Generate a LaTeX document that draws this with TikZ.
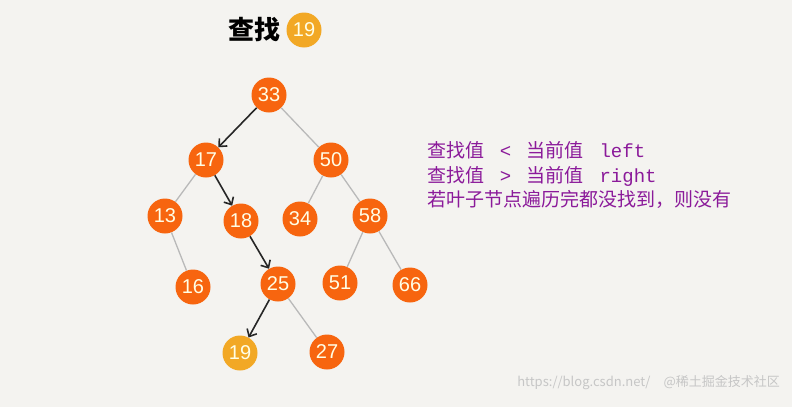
\documentclass[tikz,border=0pt]{standalone}
\usepackage{fontspec}
\newfontfamily\cjk{Noto Sans CJK SC}
\newfontfamily\mono{Liberation Mono}
\newfontfamily\numf{Liberation Sans}
\usetikzlibrary{arrows.meta}
\definecolor{bg}{HTML}{F4F3F0}
\definecolor{nod}{HTML}{F7650F}
\definecolor{yel}{HTML}{F2A825}
\definecolor{pur}{HTML}{8B1A9A}
\begin{document}
\begin{tikzpicture}[x=1pt,y=-1pt,
  tn/.style={circle,fill=nod,minimum size=35pt,inner sep=0pt,text=white!90!yellow,font=\numf\fontsize{20}{20}\selectfont},
  yn/.style={tn,fill=yel},
  ln/.style={draw=gray!55,line width=1.3pt},
  an/.style={draw=black!85,line width=1.6pt,-{Straight Barb[length=6pt,width=11pt]}}]
\fill[bg] (0,0) rectangle (792,407);
\useasboundingbox (0,0) rectangle (792,407);
\node[font=\cjk\bfseries\fontsize{26}{26}\selectfont] (title) at (254,30) {查找};
\node[yn] (q) at (304,30) {19};
\node[tn] (n33) at (269,95) {33};
\node[tn] (n17) at (206,160) {17};
\node[tn] (n50) at (331,160) {50};
\node[tn] (n13) at (165,216) {13};
\node[tn] (n18) at (241,221) {18};
\node[tn] (n34) at (300,219) {34};
\node[tn] (n58) at (370,216) {58};
\node[tn] (n16) at (193,287) {16};
\node[tn] (n25) at (278,284) {25};
\node[tn] (n51) at (340,283) {51};
\node[tn] (n66) at (410,285) {66};
\node[yn] (n19) at (240,353) {19};
\node[tn] (n27) at (327,352) {27};
\draw[ln] (n33) -- (n50);
\draw[ln] (n17) -- (n13);
\draw[ln] (n13) -- (n16);
\draw[ln] (n50) -- (n34);
\draw[ln] (n50) -- (n58);
\draw[ln] (n58) -- (n51);
\draw[ln] (n58) -- (n66);
\draw[ln] (n25) -- (n27);
\draw[an] (n33) -- (n17);
\draw[an] (n17) -- (n18);
\draw[an] (n18) -- (n25);
\draw[an] (n25) -- (n19);
\node[anchor=west,text=pur,font=\cjk\fontsize{19}{24.5}\selectfont,align=left,inner sep=0pt] (txt) at (427,175)
 {查找值 {\mono\ <\ } 当前值 {\mono\ left}\\查找值 {\mono\ >\ } 当前值 {\mono\ right}\\若叶子节点遍历完都没找到，则没有};
\node[anchor=east,text=gray!45,font=\cjk\fontsize{13}{13}\selectfont,inner sep=0pt] (wm) at (780,383) {https://blog.csdn.net/\quad @稀土掘金技术社区};
\end{tikzpicture}
\end{document}
